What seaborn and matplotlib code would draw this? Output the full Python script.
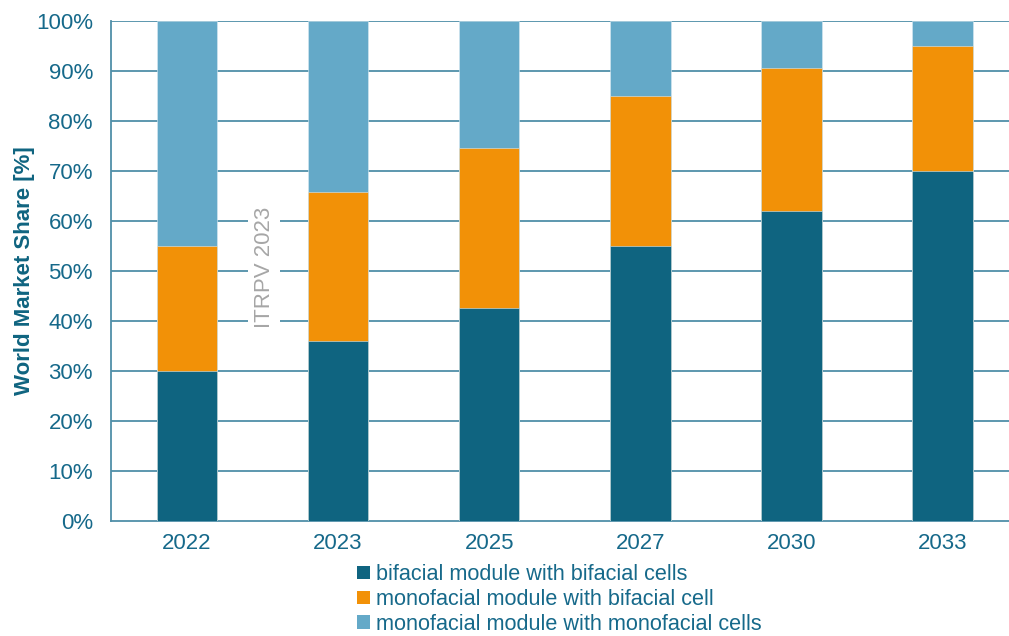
import matplotlib
matplotlib.use("Agg")
import matplotlib.pyplot as plt
import seaborn as sns
import pandas as pd
import numpy as np
from matplotlib.patches import Patch

years = ["2022", "2023", "2025", "2027", "2030", "2033"]
bifacial_bifacial = [30.0, 36.0, 42.5, 55.0, 62.0, 70.0]
mono_bifacial = [25.0, 29.8, 32.0, 30.0, 28.5, 25.0]
mono_mono = [45.0, 34.2, 25.5, 15.0, 9.5, 5.0]
series_names = ["bifacial module with bifacial cells",
                "monofacial module with bifacial cell",
                "monofacial module with monofacial cells"]
y_ticks = [0, 10, 20, 30, 40, 50, 60, 70, 80, 90, 100]

c_dark = "#0f6480"
c_orange = "#f29107"
c_light = "#64a9c8"
c_grid = "#4f8fa8"
c_text = "#16698a"

sns.set_theme(style="white")
plt.rcParams["font.family"] = ["Liberation Sans", "DejaVu Sans"]

fig = plt.figure(figsize=(10.09, 6.36), dpi=100)
ax = fig.add_axes([0.110, 0.181, 0.890, 0.786])

df = pd.DataFrame({
    "year": years,
    "s1": bifacial_bifacial,
    "s2": mono_bifacial,
    "s3": mono_mono,
})
df["c1"] = df["s1"]
df["c2"] = df["s1"] + df["s2"]
df["c3"] = df["s1"] + df["s2"] + df["s3"]

w = 0.4
for col, colr in (("c3", c_light), ("c2", c_orange), ("c1", c_dark)):
    sns.barplot(data=df, x="year", y=col, color=colr, width=w, ax=ax,
                saturation=1, zorder=3, edgecolor="#d8eaf2", linewidth=0.4)

ax.set_ylim(0, 100)
ax.set_xlim(-0.503, 5.44)
ax.set_yticks(y_ticks)
ax.set_yticklabels([f"{v}%" for v in y_ticks])
for v in y_ticks[1:]:
    ax.axhline(v, color=c_grid, lw=1.3, zorder=1)

ax.set_xlabel("")
ax.set_ylabel("World Market Share [%]", fontsize=16, fontweight="bold",
              color=c_dark, labelpad=1)
ax.tick_params(axis="y", length=0, labelsize=16, colors=c_text, pad=13)
ax.tick_params(axis="x", length=0, labelsize=16, colors=c_text, pad=9)
for s in ["top", "right"]:
    ax.spines[s].set_visible(False)
for s in ["left", "bottom"]:
    ax.spines[s].set_color(c_grid)
    ax.spines[s].set_linewidth(1.3)

ax.text(0.51, 50.8, "ITRPV 2023", rotation=90, ha="center", va="center",
        fontsize=16, color="#a6a6a6", zorder=2,
        bbox=dict(facecolor="white", edgecolor="none", pad=4))

handles = [Patch(facecolor=c, edgecolor="none") for c in (c_dark, c_orange, c_light)]
leg = fig.legend(handles, series_names, loc="upper left",
                 bbox_to_anchor=(0.354, 0.113), frameon=False, fontsize=15.6,
                 handlelength=0.6, handleheight=0.6, handletextpad=0.25,
                 labelspacing=0.18, borderpad=0, borderaxespad=0)
for t in leg.get_texts():
    t.set_color(c_text)

fig.savefig("out.png", dpi=100)
